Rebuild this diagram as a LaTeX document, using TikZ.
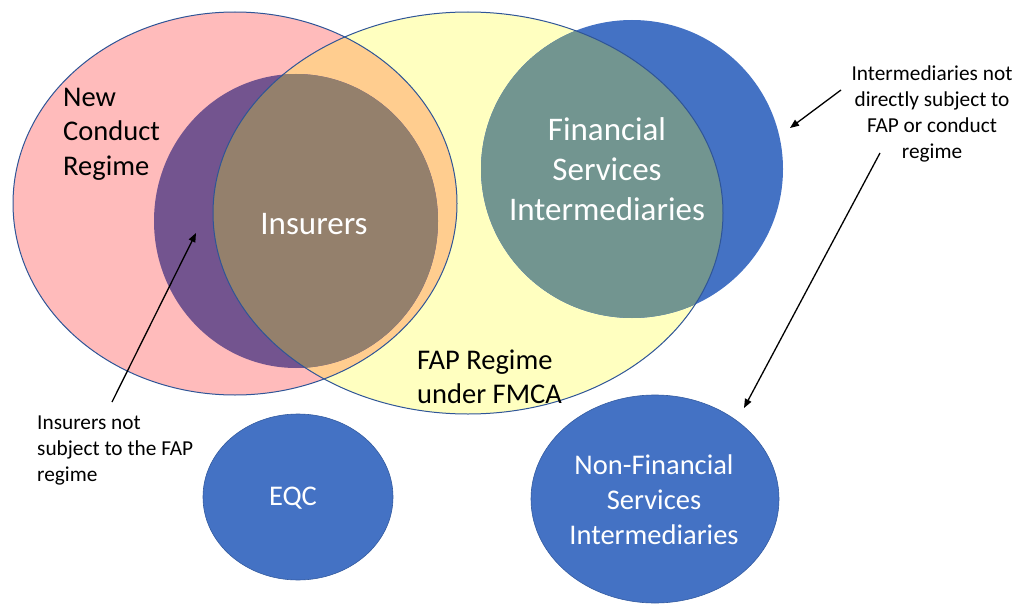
\documentclass[tikz,border=0pt]{standalone}
\usepackage{fontspec}
\setmainfont{Carlito}
\usetikzlibrary{arrows.meta}
\definecolor{pinkfill}{RGB}{255,187,187}
\definecolor{yellowfill}{RGB}{255,255,192}
\definecolor{orangefill}{RGB}{255,205,143}
\definecolor{purplefill}{RGB}{115,84,143}
\definecolor{brownfill}{RGB}{148,128,108}
\definecolor{bluefill}{RGB}{68,114,196}
\definecolor{tealfill}{RGB}{114,149,144}
\definecolor{edgeblue}{RGB}{47,85,151}
\begin{document}
\begin{tikzpicture}[x=1pt,y=-1pt,
  outline/.style={draw=edgeblue,line width=1pt},
  bigwhite/.style={inner sep=0pt,text=white,align=center,font=\fontsize{33}{40}\selectfont},
  midwhite/.style={inner sep=0pt,text=white,align=center,font=\fontsize{28.5}{35}\selectfont},
  midblack/.style={inner sep=0pt,text=black,align=left,font=\fontsize{28.5}{34.5}\selectfont},
  note/.style={inner sep=0pt,text=black,font=\fontsize{21.3}{26}\selectfont},
  pointer/.style={draw=black,line width=1.3pt,-{Triangle[length=9pt,width=7pt]}}]
\useasboundingbox (0,0) rectangle (1018,610);
\def\pinkpath{(235,203.5) ellipse [x radius=222pt, y radius=191.5pt]}
\def\yellowpath{(468,213) ellipse [x radius=255pt, y radius=201pt]}
\def\inspath{(296,221) ellipse [x radius=142pt, y radius=147pt]}
\def\fsipath{(632,169) ellipse [x radius=151pt, y radius=149pt]}
% fills
\fill[pinkfill] \pinkpath;
\fill[yellowfill] \yellowpath;
\begin{scope}
  \clip \pinkpath;
  \fill[orangefill] \yellowpath;
\end{scope}
\fill[bluefill] \fsipath;
\begin{scope}
  \clip \yellowpath;
  \fill[tealfill] \fsipath;
\end{scope}
\draw[outline] \pinkpath;
\fill[purplefill] \inspath;
\begin{scope}
  \clip \yellowpath;
  \fill[brownfill] \inspath;
\end{scope}
\draw[outline] \yellowpath;
% separate circles
\fill[bluefill,draw=edgeblue!80!bluefill,line width=0.6pt] (298,497) ellipse [x radius=95pt, y radius=83pt];
\fill[bluefill,draw=edgeblue!80!bluefill,line width=0.6pt] (655,499) ellipse [x radius=124pt, y radius=104pt];
% labels
\node[midblack,anchor=west] (ncr) at (63,134) {New\\Conduct\\Regime};
\node[bigwhite] (ins) at (314,224) {Insurers};
\node[bigwhite] (fsi) at (607,169) {Financial\\Services\\Intermediaries};
\node[midblack,anchor=west] (fap) at (417,377) {FAP Regime\\under FMCA};
\node[midwhite] (eqc) at (293,498) {EQC};
\node[midwhite] (nfsi) at (654,500) {Non-Financial\\Services\\Intermediaries};
\node[note,align=center] (intnot) at (932,114) {Intermediaries not\\directly subject to\\FAP or conduct\\regime};
\node[note,align=left,anchor=west] (insnot) at (37,450) {Insurers not\\subject to the FAP\\regime};
% arrows
\coordinate (a1s) at (112,402);
\coordinate (a1e) at (196,233);
\coordinate (a2s) at (841,90);
\coordinate (a2e) at (790,128);
\coordinate (a3s) at (880,153);
\coordinate (a3e) at (744,408);
\draw[pointer] (a1s) -- (a1e);
\draw[pointer] (a2s) -- (a2e);
\draw[pointer] (a3s) -- (a3e);
\end{tikzpicture}
\end{document}
